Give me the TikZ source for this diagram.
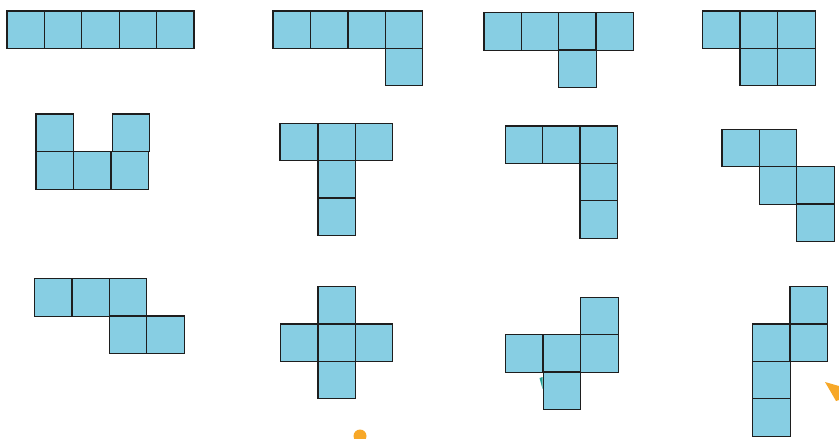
\documentclass[tikz,border=0pt]{standalone}
\definecolor{cellblue}{RGB}{135,206,227}
\definecolor{edgegray}{RGB}{30,30,30}
\definecolor{orangemark}{RGB}{247,168,40}
\definecolor{tealmark}{RGB}{40,160,150}
\newcommand\cellat[2]{\draw[cellbox] (#1,-#2) rectangle ++(37.4,-37.4);}
\begin{document}
\begin{tikzpicture}[x=1pt,y=1pt,cellbox/.style={fill=cellblue,draw=edgegray,line width=1.1pt}]
\useasboundingbox (0,0) rectangle (839,-439);
% row 1
\cellat{7}{11}\cellat{44.4}{11}\cellat{81.8}{11}\cellat{119.2}{11}\cellat{156.6}{11}
\cellat{273}{11}\cellat{310.5}{11}\cellat{348}{11}\cellat{385.5}{11}\cellat{385.5}{48.5}
\cellat{484}{12.7}\cellat{521.3}{12.7}\cellat{558.7}{12.7}\cellat{596}{12.7}\cellat{558.7}{50}
\cellat{702.7}{11}\cellat{740}{11}\cellat{777.7}{11}\cellat{740}{48.5}\cellat{777.7}{48.5}
% row 2
\cellat{36}{114}\cellat{112.5}{114}\cellat{36}{151.7}\cellat{73.5}{151.7}\cellat{111}{151.7}
\cellat{280}{123.3}\cellat{318}{123.3}\cellat{355.3}{123.3}\cellat{318}{160.7}\cellat{318}{198}
\cellat{505.3}{126}\cellat{542.7}{126}\cellat{580}{126}\cellat{580}{163.3}\cellat{580}{200.7}
\cellat{722}{129.3}\cellat{759.3}{129.3}\cellat{759.3}{166.7}\cellat{796.7}{166.7}\cellat{796.7}{204}
% row 3
\cellat{34.7}{278.7}\cellat{72}{278.7}\cellat{109.3}{278.7}\cellat{109.3}{316}\cellat{146.7}{316}
\cellat{318}{286.7}\cellat{280.7}{324}\cellat{318}{324}\cellat{355.3}{324}\cellat{318}{361.5}
\cellat{580.7}{297.3}\cellat{505.3}{334.7}\cellat{543}{334.7}\cellat{580.7}{334.7}\cellat{543.3}{372}
\cellat{790}{286.7}\cellat{752.7}{324}\cellat{790}{324}\cellat{752.7}{361.3}\cellat{752.7}{398.7}
% stray marks
\fill[orangemark] (825,-382) -- (839,-386) -- (839,-400) -- (836,-401) -- cycle;
\fill[orangemark] (360,-436) circle (6.5);
\fill[tealmark] (539.5,-378) -- (542.5,-377) -- (542.5,-389) -- cycle;
\end{tikzpicture}
\end{document}
